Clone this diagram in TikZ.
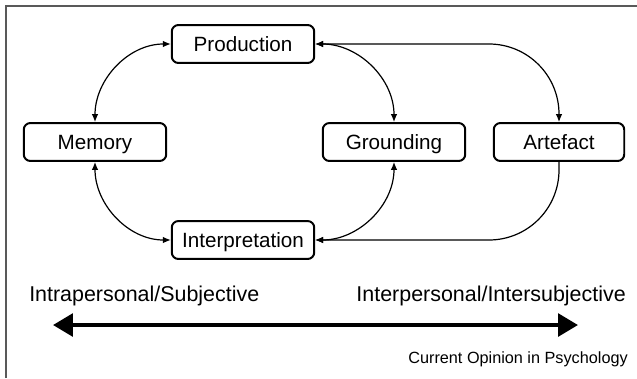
\documentclass[tikz,border=0pt]{standalone}
\usepackage{fontspec}
\setmainfont{Liberation Sans}
\usepackage{tikz}
\usetikzlibrary{shapes,arrows,positioning,calc,arrows.meta}

\tikzset{
    stage/.style={draw, line width=1.5pt, rounded corners=5pt, minimum width=107pt, minimum height=28.5pt, inner sep=0pt, text height=13pt, text depth=2pt, font=\fontsize{15.5}{18}\selectfont},
    link/.style={line width=0.9pt, {Latex[length=6pt,width=5pt]}-{Latex[length=6pt,width=5pt]}},
    scale label/.style={font=\fontsize{16.1}{19}\selectfont, inner sep=0pt},
}

\begin{document}
\begin{tikzpicture}[x=0.0264cm, y=-0.0264cm]
    \useasboundingbox (0,0) rectangle (637,378);
    % frame
    \draw [gray!70!black, line width=1.2pt] (6,378) -- (6,6) -- (637,6);

    % Stages
    \node [stage] (production) at (243,44) {Production};
    \node [stage] (memory) at (95,142) {Memory};
    \node [stage] (grounding) at (394,142) {Grounding};
    \node [stage, minimum width=98pt] (artefact) at (559,142) {Artefact};
    \node [stage] (interpretation) at (243,240) {Interpretation};

    % Links
    \draw [link] (memory.north) to[out=90, in=180] (production.west);
    \draw [link] (memory.south) to[out=-90, in=180] (interpretation.west);
    \draw [link] (production.east) to[out=0, in=90] (grounding.north);
    \draw [link] (interpretation.east) to[out=0, in=-90] (grounding.south);
    \draw [link, rounded corners=1.85cm] (production.east) -| (artefact.north);
    \draw [link, {Latex[length=6pt,width=5pt]}-, rounded corners=1.85cm] (interpretation.east) -| (artefact.south);

    % Scale
    \node [scale label, anchor=west] (intra) at (29,296) {Intrapersonal/Subjective};
    \node [scale label, anchor=east] (inter) at (626,296) {Interpersonal/Intersubjective};
    \coordinate (left end) at (53,325);
    \coordinate (right end) at (578,325);
    \draw [line width=3pt, {Triangle[length=15pt,width=17pt]}-{Triangle[length=15pt,width=17pt]}] (left end) -- (right end);

    \node [anchor=east, inner sep=0pt, font=\fontsize{12.2}{14}\selectfont] (source) at (628,359) {Current Opinion in Psychology};
\end{tikzpicture}
\end{document}
